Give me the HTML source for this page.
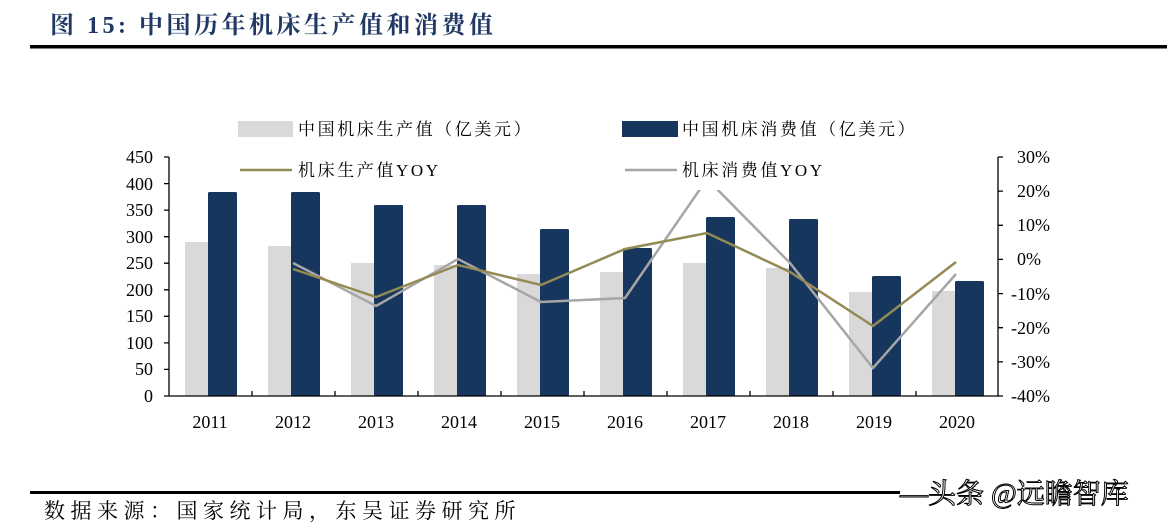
<!DOCTYPE html>
<html><head><meta charset="utf-8"><style>
body{margin:0;background:#fff;width:1167px;height:523px;overflow:hidden}
svg{display:block}
text{font-family:"Liberation Serif","Noto Serif CJK SC",serif}
</style></head><body>
<svg width="1167" height="523" viewBox="0 0 1167 523">
<text x="50" y="33" font-size="24" font-weight="bold" fill="#1f3864" letter-spacing="3.5">图 15:  中国历年机床生产值和消费值</text>
<rect x="30" y="45" width="1137" height="3.5" fill="#000"/>
<!-- legend -->
<rect x="238" y="121" width="55" height="16" fill="#d9d9d9"/>
<text x="298" y="135" font-size="17" fill="#000" letter-spacing="2.6">中国机床生产值（亿美元）</text>
<rect x="622" y="121" width="56" height="16" fill="#17365d"/>
<text x="682" y="135" font-size="17" fill="#000" letter-spacing="2.6">中国机床消费值（亿美元）</text>
<g fill="#d9d9d9">
<rect x="185" y="242" width="24" height="154"/>
<rect x="268" y="246" width="24" height="150"/>
<rect x="351" y="263" width="24" height="133"/>
<rect x="434" y="265" width="24" height="131"/>
<rect x="517" y="274" width="24" height="122"/>
<rect x="600" y="272" width="24" height="124"/>
<rect x="683" y="263" width="24" height="133"/>
<rect x="766" y="268" width="24" height="128"/>
<rect x="849" y="292" width="24" height="104"/>
<rect x="932" y="291" width="24" height="105"/>
</g>
<g fill="#17365d">
<rect x="208" y="192" width="29" height="204" rx="1.5"/>
<rect x="291" y="192" width="29" height="204" rx="1.5"/>
<rect x="374" y="205" width="29" height="191" rx="1.5"/>
<rect x="457" y="205" width="29" height="191" rx="1.5"/>
<rect x="540" y="229" width="29" height="167" rx="1.5"/>
<rect x="623" y="248" width="29" height="148" rx="1.5"/>
<rect x="706" y="217" width="29" height="179" rx="1.5"/>
<rect x="789" y="219" width="29" height="177" rx="1.5"/>
<rect x="872" y="276" width="29" height="120" rx="1.5"/>
<rect x="955" y="281" width="29" height="115" rx="1.5"/>
</g>
<polyline fill="none" stroke="#a6a6a6" stroke-width="2.5" points="293,263 376,306 458,259 541,302 625,298 707,179 790,263 873,368 956,274"/>
<rect x="690" y="160" width="35" height="30" fill="#fff"/>
<polyline fill="none" stroke="#948a54" stroke-width="2.5" points="293,269 376,297 458,265 541,285 625,249 707,233 790,272 873,326 956,262"/>
<line x1="240" y1="170" x2="292" y2="170" stroke="#948a54" stroke-width="2.5"/>
<text x="298" y="176" font-size="17" letter-spacing="2.6">机床生产值YOY</text>
<line x1="625" y1="170" x2="677" y2="170" stroke="#a6a6a6" stroke-width="2.5"/>
<text x="682" y="176" font-size="17" letter-spacing="2.6">机床消费值YOY</text>
<g stroke="#000" stroke-width="1.3" fill="none">
<line x1="169" y1="157" x2="169" y2="396"/>
<line x1="169" y1="396" x2="999" y2="396"/>
<line x1="998" y1="157" x2="998" y2="396"/>
<path d="M164 157H169M164 183.6H169M164 210.1H169M164 236.7H169M164 263.2H169M164 289.8H169M164 316.3H169M164 342.9H169M164 369.4H169M164 396H169"/>
<path d="M998 157H1003M998 191.1H1003M998 225.3H1003M998 259.4H1003M998 293.6H1003M998 327.7H1003M998 361.9H1003M998 396H1003"/>
<path d="M252 396V391M335 396V391M418 396V391M501 396V391M584 396V391M667 396V391M750 396V391M833 396V391M916 396V391"/>
</g>
<g font-size="18" text-anchor="end">
<text x="153" y="163">450</text><text x="153" y="190">400</text><text x="153" y="216">350</text>
<text x="153" y="243">300</text><text x="153" y="269">250</text><text x="153" y="296">200</text>
<text x="153" y="322">150</text><text x="153" y="349">100</text><text x="153" y="375">50</text>
<text x="153" y="402">0</text>
</g>
<g font-size="18">
<text x="1017" y="163">30%</text><text x="1017" y="197">20%</text><text x="1017" y="231">10%</text>
<text x="1017" y="265">0%</text><text x="1011" y="300">-10%</text><text x="1011" y="334">-20%</text>
<text x="1011" y="368">-30%</text><text x="1011" y="402">-40%</text>
</g>
<g font-size="18" text-anchor="middle">
<text x="210" y="428">2011</text><text x="293" y="428">2012</text><text x="376" y="428">2013</text>
<text x="459" y="428">2014</text><text x="542" y="428">2015</text><text x="625" y="428">2016</text>
<text x="708" y="428">2017</text><text x="791" y="428">2018</text><text x="874" y="428">2019</text>
<text x="957" y="428">2020</text>
</g>
<rect x="30" y="491" width="870" height="3" fill="#000"/>
<text x="44" y="518" font-size="21" letter-spacing="5.5">数据来源：国家统计局，东吴证券研究所</text>
<text x="900" y="503" font-size="28" font-family="Liberation Sans,'Noto Sans CJK SC',sans-serif" fill="#fff" stroke="#000" stroke-width="1">—头条 @远瞻智库</text>
</svg>
</body></html>
